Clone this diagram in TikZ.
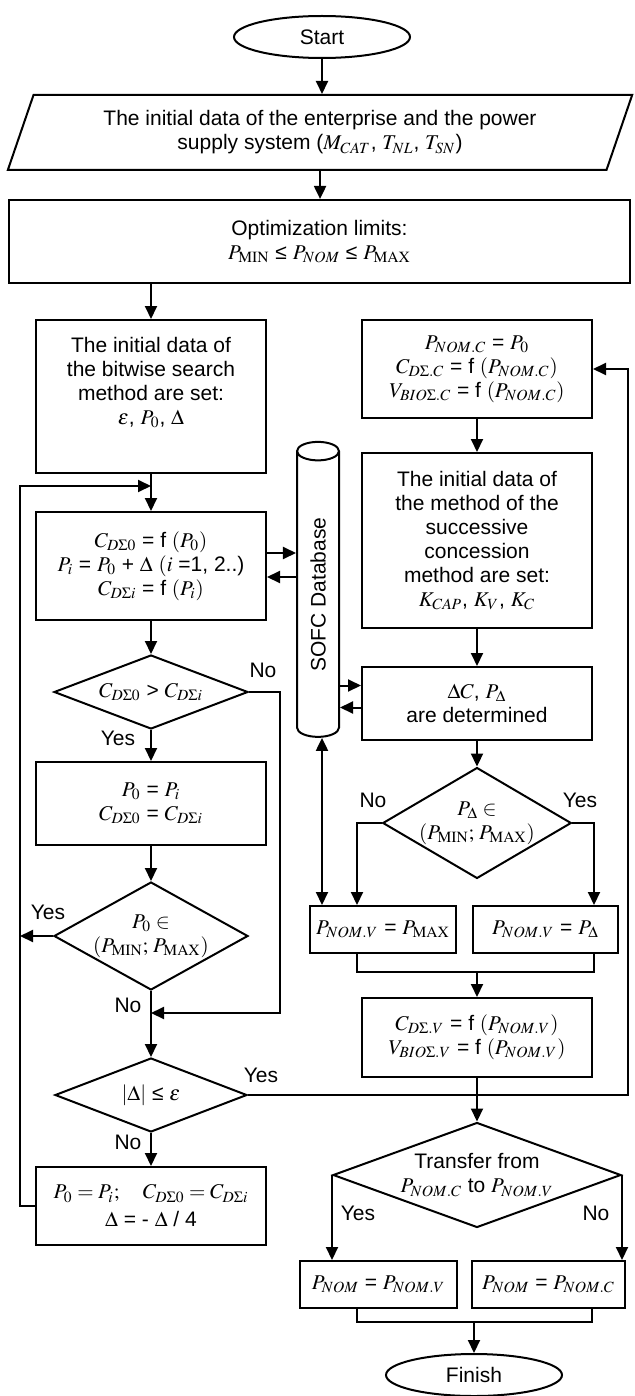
\documentclass[tikz,border=0pt]{standalone}
\usepackage{mathptmx}
\usepackage[no-math]{fontspec}
\setmainfont{Liberation Sans}
\usetikzlibrary{positioning, calc, shapes.geometric, arrows.meta}

\begin{document}
\begin{tikzpicture}[x=0.5pt, y=-0.5pt, line width=1pt,
    font=\fontsize{10.5}{12}\selectfont,
    box/.style={draw, rectangle, align=center, inner sep=0pt},
    dec/.style={draw, diamond, align=center, inner sep=0pt},
    term/.style={draw, ellipse, minimum width=88pt, minimum height=21pt, inner sep=0pt},
    arr/.style={-{Triangle[length=6.5pt,width=6pt]}},
    lbl/.style={inner sep=0pt}]
    \useasboundingbox (0,0) rectangle (635,1396);

    % top of the chart
    \node[term] (start) at (322,37) {Start};
    \node[draw, trapezium, trapezium left angle=66, trapezium right angle=114,
        trapezium stretches=true, minimum width=313pt, minimum height=37.5pt,
        align=center, inner sep=0pt] (input) at (320,132.5)
        {The initial data of the enterprise and the power\\
         supply system ($M_{CAT}$, $T_{NL}$, $T_{SN}$)};
    \node[box, minimum width=310.5pt, minimum height=41.5pt] (limits) at (319.5,241.5)
        {Optimization limits:\\ $P_{\mathrm{MIN}}$ ≤ $P_{NOM}$ ≤ $P_{\mathrm{MAX}}$};

    % bitwise search (left column)
    \node[box, minimum width=115pt, minimum height=76.5pt] (bwinit) at (151,396.5)
        {The initial data of\\ the bitwise search\\ method are set:\\
         $\varepsilon$, $P_0$, $\Delta$\\ \strut};
    \node[box, minimum width=115pt, minimum height=54pt] (bwcalc) at (151,566)
        {$C_{D\Sigma0}$ = f $(P_0)$\\ $P_i$ = $P_0$ + $\Delta$ $(i$ =1, 2..)\\
         $C_{D\Sigma i}$ = f $(P_i)$};
    \node[dec, minimum width=97pt, minimum height=37pt, aspect=2.6] (cmp) at (151,692)
        {$C_{D\Sigma0}$ > $C_{D\Sigma i}$};
    \node[box, minimum width=115pt, minimum height=41.5pt] (swap) at (151,803.5)
        {$P_0$ = $P_i$\\ $C_{D\Sigma0}$ = $C_{D\Sigma i}$};
    \node[dec, minimum width=97pt, minimum height=54pt, aspect=1.8] (inrange) at (151,936)
        {$P_0\in$\\ $(P_{\mathrm{MIN}};\,P_{\mathrm{MAX}})$};
    \node[dec, minimum width=96pt, minimum height=37pt, aspect=2.6] (conv) at (151,1095)
        {$|\Delta|$ ≤ $\varepsilon$};
    \node[box, minimum width=115pt, minimum height=39pt] (bwstep) at (151,1206)
        {$P_0 = P_i;\quad C_{D\Sigma0} = C_{D\Sigma i}$\\[2pt] $\Delta$ = - $\Delta$ / 4};

    % database
    \node[draw, cylinder, rotate=90, minimum width=21pt, minimum height=147.5pt,
        aspect=1.2, inner sep=0pt] (db) at (318,594.5) {SOFC Database};

    % successive concession (right column)
    \node[box, minimum width=115pt, minimum height=49pt] (nomc) at (477,369)
        {$P_{NOM.C}$ = $P_0$\\ $C_{D\Sigma.C}$ = f $(P_{NOM.C})$\\
         $V_{BIO\Sigma.C}$ = f $(P_{NOM.C})$};
    \node[box, minimum width=115pt, minimum height=87.5pt] (scinit) at (477,540.5)
        {The initial data of\\ the method of the\\ successive\\ concession\\
         method are set:\\ $K_{CAP}$, $K_V$, $K_C$};
    \node[box, minimum width=115pt, minimum height=36.5pt] (dcalc) at (477,703.5)
        {$\Delta C$, $P_\Delta$\\ are determined};
    \node[dec, minimum width=94pt, minimum height=55pt, aspect=1.7] (dinrange) at (477,823)
        {$P_\Delta\in$\\ $(P_{\mathrm{MIN}};\,P_{\mathrm{MAX}})$};
    \node[box, minimum width=73pt, minimum height=23.5pt] (vmax) at (383,929.5)
        {$P_{NOM.V}$ = $P_{\mathrm{MAX}}$};
    \node[box, minimum width=72.5pt, minimum height=23.5pt] (vdelta) at (545.5,929.5)
        {$P_{NOM.V}$ = $P_\Delta$};
    \node[box, minimum width=115pt, minimum height=39.5pt] (nomv) at (477,1037.5)
        {$C_{D\Sigma.V}$ = f $(P_{NOM.V})$\\ $V_{BIO\Sigma.V}$ = f $(P_{NOM.V})$};
    \node[dec, minimum width=144pt, minimum height=52.5pt, aspect=2.74] (transfer) at (477,1175)
        {Transfer from\\ $P_{NOM.C}$ to $P_{NOM.V}$};
    \node[box, minimum width=78.5pt, minimum height=23.5pt] (resv) at (378.5,1284.5)
        {$P_{NOM}$ = $P_{NOM.V}$};
    \node[box, minimum width=76.5pt, minimum height=23.5pt] (resc) at (548.5,1284.5)
        {$P_{NOM}$ = $P_{NOM.C}$};
    \node[term] (finish) at (474,1375) {Finish};

    % branch labels
    \node[lbl] (no1) at (263,670) {No};
    \node[lbl] (yes1) at (118,738) {Yes};
    \node[lbl] (yes3) at (48,912) {Yes};
    \node[lbl] (no3) at (128,1005) {No};
    \node[lbl] (yes4) at (261,1075) {Yes};
    \node[lbl] (no4) at (128,1142) {No};
    \node[lbl] (no2) at (373,800) {No};
    \node[lbl] (yes2) at (580,800) {Yes};
    \node[lbl] (yes5) at (358,1213) {Yes};
    \node[lbl] (no5) at (596,1213) {No};

    % free ends of the loops
    \coordinate (nojoin) at (280,1013);
    \coordinate (loopb) at (20,1206);
    \coordinate (loopt) at (20,486);
    \coordinate (rloop) at (628,1095);
    \coordinate (vjoin) at (477,972);
    \coordinate (fjoin) at (474,1322);

    % main flow
    \draw[arr] (start.south) -- (start.south |- input.north);
    \draw[arr] (input.south) -- (input.south |- limits.north);
    \draw[arr] (limits.south -| bwinit.north) -- (bwinit.north);
    \draw[arr] (bwinit.south) -- (bwcalc.north);
    \draw[arr] (bwcalc.south) -- (cmp.north);
    \draw[arr] (cmp.south) -- (swap.north);
    \draw[arr] (swap.south) -- (inrange.north);
    \draw[arr] (inrange.south) -- (conv.north);
    \draw[arr] (conv.south) -- (bwstep.north);
    \draw[arr] (cmp.east) -| (nojoin) -- (inrange.south |- nojoin);
    \draw[arr] (bwstep.west) -- (loopb) -- (loopt) -- (bwinit.south |- loopt);
    \draw[arr] (inrange.west) -- (inrange.west -| loopt);
    \draw[arr] (conv.east) -- (rloop) |- (nomc.east);

    \draw[arr] (nomc.south) -- (scinit.north);
    \draw[arr] (scinit.south) -- (dcalc.north);
    \draw[arr] (dcalc.south) -- (dinrange.north);
    \draw[arr] (dinrange.west) -| ([xshift=24pt]vmax.north west);
    \draw[arr] (dinrange.east) -| ([xshift=-12.5pt]vdelta.north east);
    \draw ([xshift=24pt]vmax.south west) |- (vjoin) -| ([xshift=-12.5pt]vdelta.south east);
    \draw[arr] (vjoin) -- (nomv.north);
    \draw[arr] (nomv.south) -- (transfer.north);
    \draw[arr] (transfer.west) -- (transfer.west |- resv.north);
    \draw[arr] (transfer.east) -- (transfer.east |- resc.north);
    \draw ([xshift=29pt]resv.south west) |- (fjoin) -| ([xshift=-17pt]resc.south east);
    \draw[arr] (fjoin) -- (finish.north);

    % database links
    \draw[arr] ([yshift=6.5pt]bwcalc.east) -- ([yshift=6.5pt]bwcalc.east -| db.north);
    \draw[arr] ([yshift=-5.5pt]bwcalc.east -| db.north) -- ([yshift=-5.5pt]bwcalc.east);
    \draw[arr] ([yshift=9pt]dcalc.west -| db.south) -- ([yshift=9pt]dcalc.west);
    \draw[arr] ([yshift=-2pt]dcalc.west) -- ([yshift=-2pt]dcalc.west -| db.south);
    \draw[{Triangle[length=6.5pt,width=6pt]}-{Triangle[length=6.5pt,width=6pt]}]
        ([xshift=6.5pt]vmax.north west |- db.west) -- ([xshift=6.5pt]vmax.north west);
\end{tikzpicture}
\end{document}
